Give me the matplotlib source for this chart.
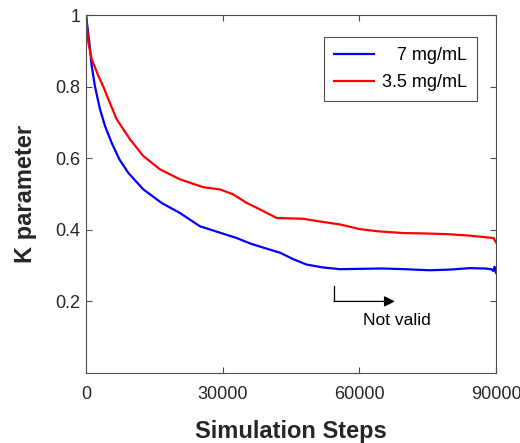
import matplotlib
matplotlib.use('Agg')
import matplotlib.pyplot as plt

plt.rcParams['font.family'] = ['Liberation Sans', 'DejaVu Sans']

# 7 mg/mL curve
steps_7 = [0, 730, 1250, 1975, 3070, 4170, 5630, 7320, 9290, 12580, 16610, 20630,
           25000, 29400, 33100, 36000, 39000, 42600, 45500, 48400, 52000, 55750,
           60000, 65000, 70000, 75500, 80000, 84300, 87500, 89000, 89400, 89700, 90000]
k_7 = [1.0, 0.923, 0.858, 0.80, 0.737, 0.69, 0.643, 0.597, 0.559, 0.513, 0.475, 0.447,
       0.41, 0.392, 0.377, 0.362, 0.35, 0.336, 0.318, 0.303, 0.295, 0.29,
       0.291, 0.292, 0.29, 0.287, 0.289, 0.293, 0.292, 0.29, 0.285, 0.297, 0.28]

# 3.5 mg/mL curve
steps_35 = [0, 510, 1250, 2710, 3800, 4900, 6730, 9660, 12580, 16240, 20630, 25750,
            29400, 32300, 35300, 38200, 41860, 44500, 47600, 50500, 53600, 55750,
            60100, 64000, 69600, 74000, 79200, 84000, 87950, 89500, 90000]
k_35 = [1.0, 0.923, 0.877, 0.83, 0.80, 0.765, 0.709, 0.653, 0.606, 0.569, 0.541, 0.519,
        0.513, 0.499, 0.475, 0.457, 0.433, 0.432, 0.431, 0.425, 0.419, 0.415,
        0.402, 0.396, 0.391, 0.39, 0.388, 0.384, 0.379, 0.377, 0.365]

labels = ['   7 mg/mL', '3.5 mg/mL']
x_ticks = [0, 30000, 60000, 90000]
y_ticks = [0.2, 0.4, 0.6, 0.8, 1.0]
y_tick_labels = ['0.2', '0.4', '0.6', '0.8', '1']

# "Not valid" marker
cut_step = 54400
arrow_end = 67800

GRAY = '#262626'
AX_GRAY = '#4d4d4d'

fig = plt.figure(figsize=(5.2, 4.43), dpi=100)
ax = fig.add_axes([0.1654, 0.158, 0.7884, 0.808])

ax.plot(steps_7, k_7, color='#0000ff', lw=1.6, label=labels[0])
ax.plot(steps_35, k_35, color='#ff0000', lw=1.6, label=labels[1])

ax.set_xlim(0, 90000)
ax.set_ylim(0, 1)
ax.set_xticks(x_ticks)
ax.set_xticklabels([str(t) for t in x_ticks])
ax.set_yticks(y_ticks)
ax.set_yticklabels(y_tick_labels)

ax.tick_params(direction='in', length=4, width=0.8, colors=AX_GRAY,
               labelcolor=GRAY, labelsize=13, top=True, right=True)
ax.tick_params(axis='x', pad=9)
ax.tick_params(axis='y', pad=4)
for s in ax.spines.values():
    s.set_color(AX_GRAY)
    s.set_linewidth(0.8)

ax.set_xlabel('Simulation Steps', fontsize=17, fontweight='bold', color=GRAY)
ax.set_ylabel('K parameter', fontsize=17, fontweight='bold', color=GRAY)
ax.xaxis.set_label_coords(0.5, -0.13)
ax.yaxis.set_label_coords(-0.12, 0.5)

leg = ax.legend(loc='upper right', bbox_to_anchor=(0.954, 0.938), fontsize=13,
                handlelength=2.2, fancybox=False, framealpha=1,
                edgecolor=AX_GRAY, borderpad=0.55, labelspacing=0.55,
                handletextpad=0.45, borderaxespad=0)
leg.get_frame().set_linewidth(0.8)

ax.plot([cut_step, cut_step], [0.242, 0.2], color='k', lw=0.9)
ax.annotate('', xy=(arrow_end, 0.2), xytext=(cut_step, 0.2),
            arrowprops=dict(arrowstyle='-|>', color='k', lw=0.9,
                            mutation_scale=16, shrinkA=0, shrinkB=0))
ax.text(68300, 0.148, 'Not valid', fontsize=12.5, ha='center', va='center', color='k')

fig.savefig('out.png', dpi=100)
